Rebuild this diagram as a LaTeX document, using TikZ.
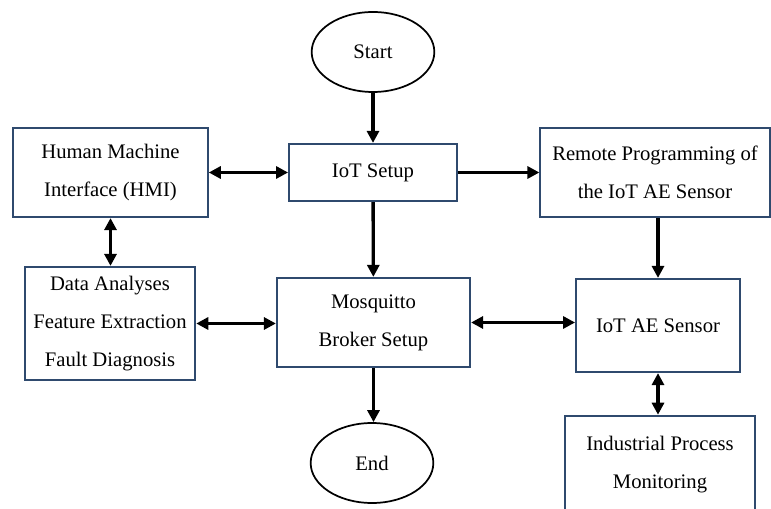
\documentclass[tikz,border=0pt]{standalone}
\usepackage{fontspec}
\setmainfont{Liberation Serif}
\usetikzlibrary{positioning, shapes.geometric, arrows.meta}
\definecolor{boxBlue}{HTML}{2F4A6E}

\begin{document}
\begin{tikzpicture}[
    x=0.75pt, y=-0.75pt,
    box/.style={draw=boxBlue, line width=1.4pt, fill=white, align=center, inner sep=2pt,
                font=\fontsize{15.5}{28.5}\selectfont},
    term/.style={ellipse, draw, line width=1.3pt, inner sep=0pt, minimum width=92pt,
                 minimum height=60pt, font=\fontsize{15.5}{28.5}\selectfont},
    arr/.style={-{Triangle[length=9pt, width=9pt]}, line width=2.5pt},
    darr/.style={{Triangle[length=9pt, width=9pt]}-{Triangle[length=9pt, width=9pt]}, line width=2.5pt},
]
\clip (0,0) rectangle (771,509);
% main column
\node[term] (start) at (373,52) {Start};
\node[box, minimum width=126pt, minimum height=43pt] (iot) at (373,172.5) {IoT Setup};
\node[box, minimum width=145pt, minimum height=67pt] (mosq) at (373.5,322.5) {Mosquitto\\Broker Setup};
\node[term] (end) at (372,463) {End};
% left side
\node[box, minimum width=146pt, minimum height=67pt] (hmi) at (110.5,172.5) {Human Machine\\Interface (HMI)};
\node[box, minimum width=128pt, minimum height=85pt] (data) at (110,323.5) {Data Analyses\\Feature Extraction\\Fault Diagnosis};
% right side
\node[box, minimum width=172pt, minimum height=67pt] (remote) at (655,172.5) {Remote Programming of\\the IoT AE Sensor};
\node[box, minimum width=123pt, minimum height=70pt] (sensor) at (658,325.5) {IoT AE Sensor};
\node[box, minimum width=142pt, minimum height=74pt] (indus) at (660,465) {Industrial Process\\Monitoring};

\draw[arr] (start) -- (iot);
\draw[arr] (iot) -- (mosq);
\draw[arr] (mosq.south) -- (mosq.south |- end.north);
\draw[arr] (iot.east) -- (iot.east -| remote.west);
\draw[arr] (sensor.north |- remote.south) -- (sensor.north);
\draw[darr] (hmi.east) -- (hmi.east -| iot.west);
\draw[darr] (hmi.south) -- (hmi.south |- data.north);
\draw[darr] (data.east) -- (data.east -| mosq.west);
\draw[darr] (mosq.east) -- (mosq.east -| sensor.west);
\draw[darr] (sensor.south) -- (sensor.south |- indus.north);
\end{tikzpicture}
\end{document}
